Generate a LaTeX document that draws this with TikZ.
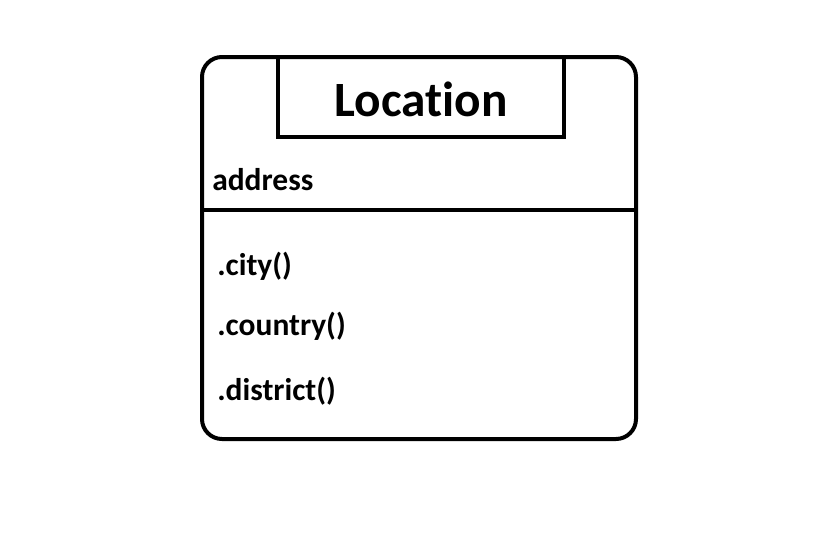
\documentclass[tikz,border=0pt]{standalone}
\usepackage{fontspec}
\setmainfont{Carlito}[RawFeature={-liga}]
\begin{document}
\begin{tikzpicture}[x=0.75pt,y=-0.75pt,
  frame/.style={draw=black,line width=3pt},
  titletext/.style={font=\bfseries\fontsize{37}{40}\selectfont,inner sep=0pt},
  itemtext/.style={font=\bfseries\fontsize{23.6}{26}\selectfont,inner sep=0pt,anchor=west}]
\useasboundingbox (0,0) rectangle (819,551);
\draw[frame,rounded corners=15] (202,57) rectangle (636,439);
\draw[frame] (278,57) rectangle (564,137);
\draw[frame] (202,210) -- (636,210);
\node[titletext] (title) at (421,99) {Location};
\node[itemtext] (addr) at (212,180) {address};
\node[itemtext] (city) at (217,266) {.city()};
\node[itemtext] (country) at (217,326) {.country()};
\node[itemtext] (district) at (217,391) {.district()};
\end{tikzpicture}
\end{document}
